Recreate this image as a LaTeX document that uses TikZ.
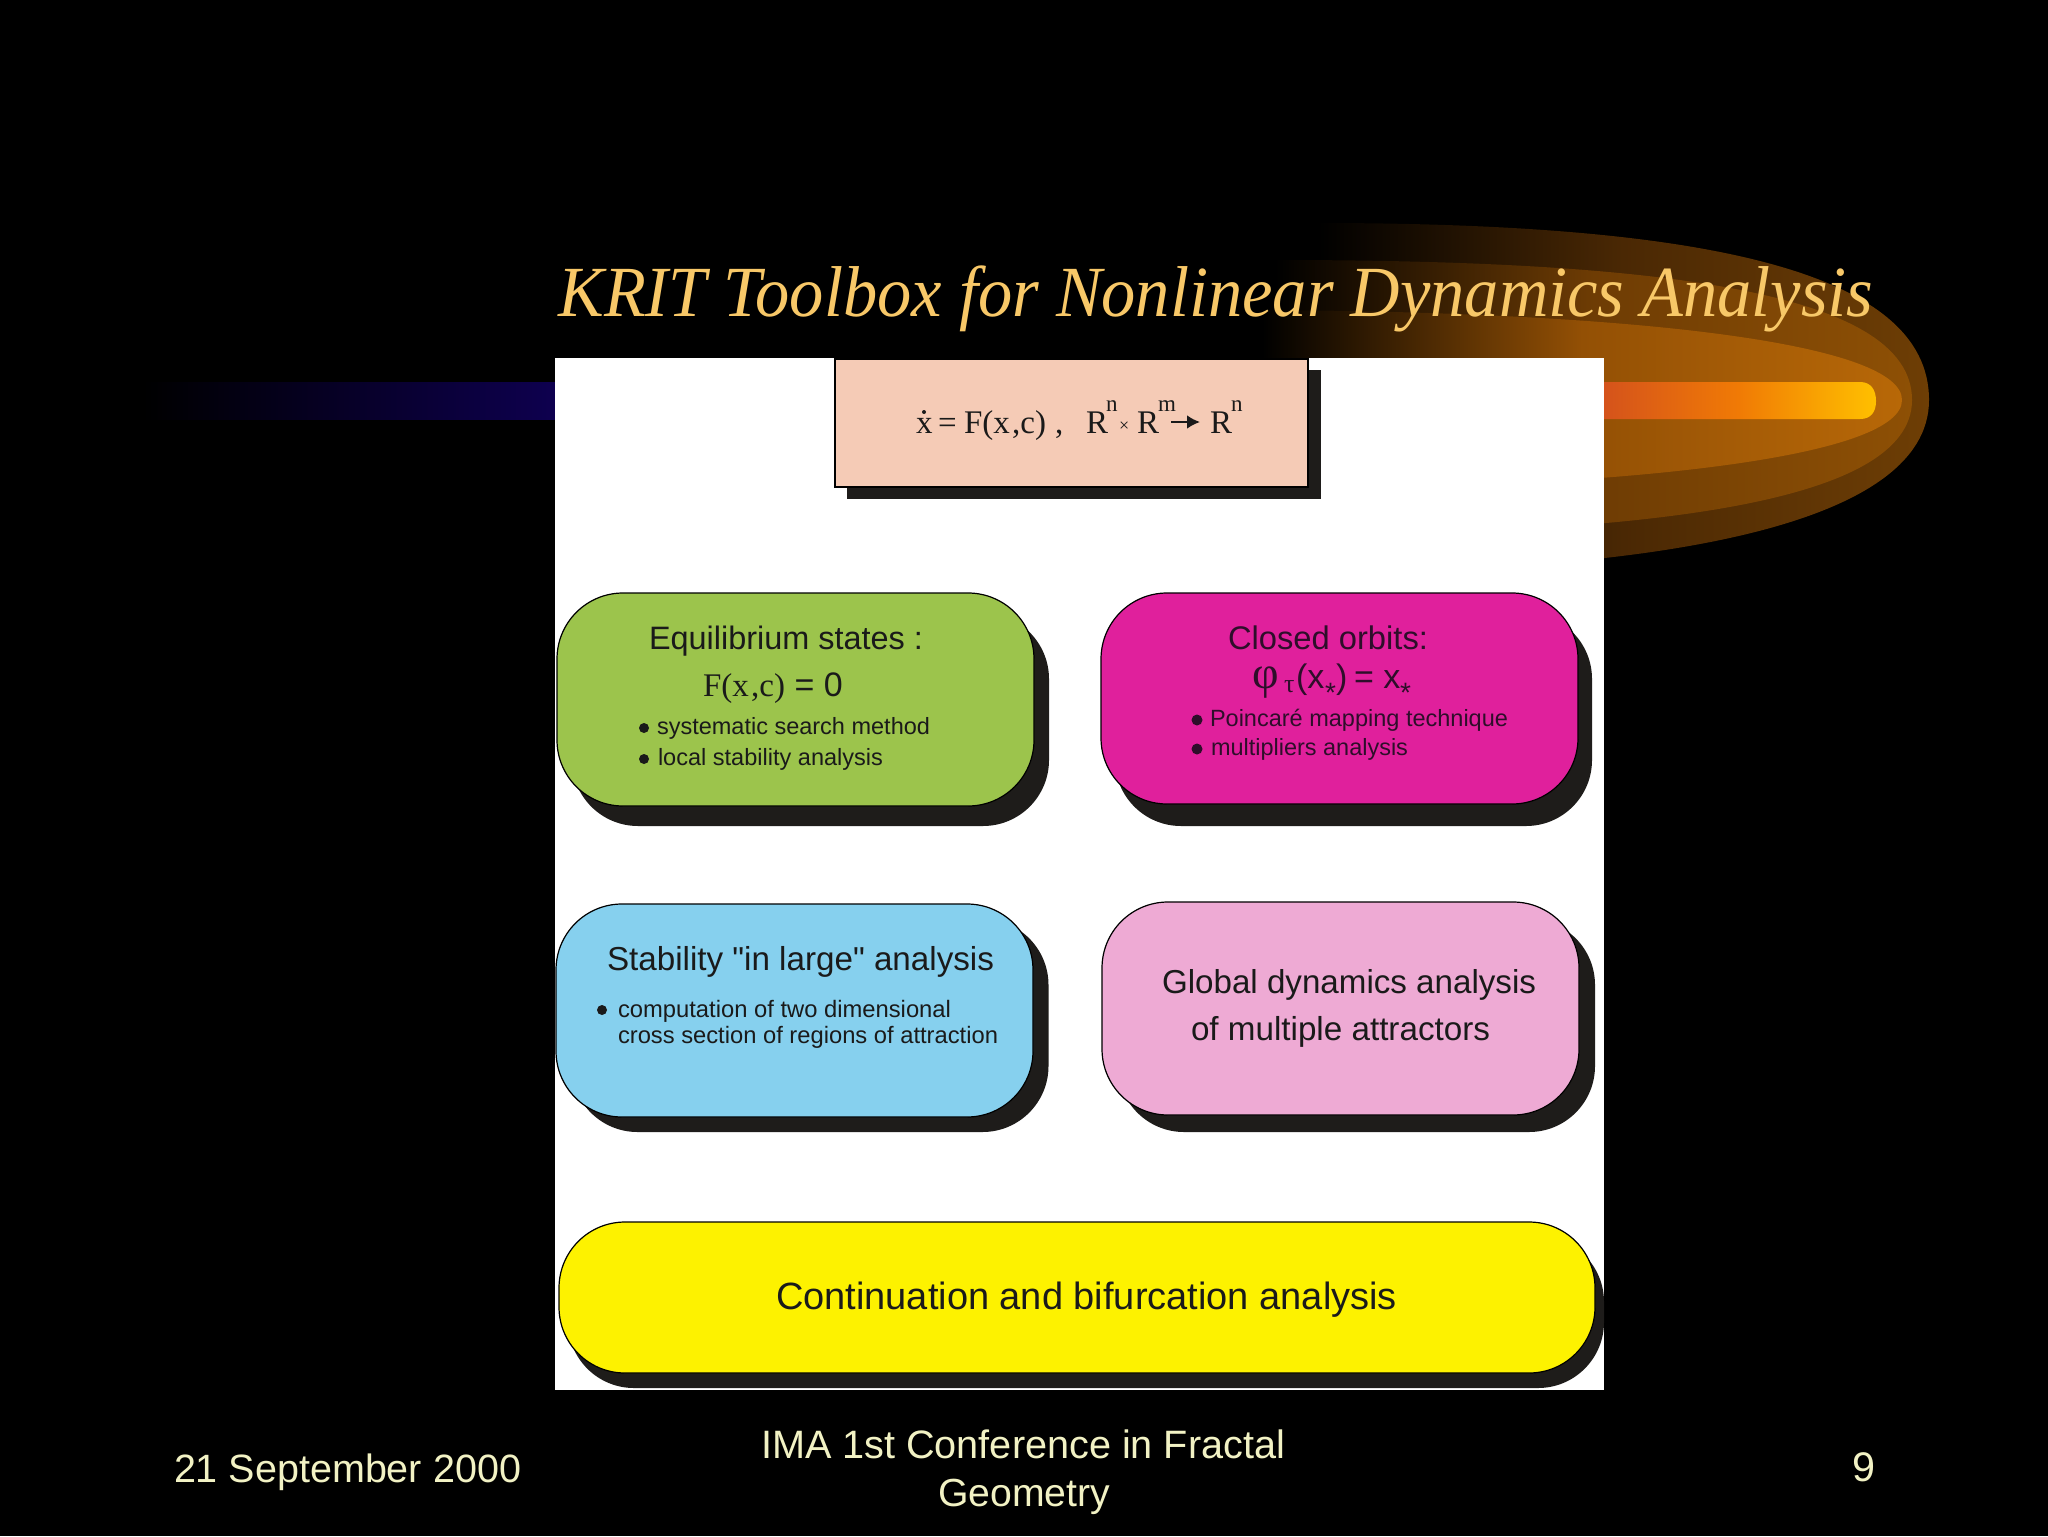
\documentclass[tikz,border=0pt]{standalone}
\usepackage{fontspec}
\usepackage{graphicx}
\setmainfont{Liberation Sans}
\newfontfamily\serf{Liberation Serif}
\newfontfamily\plainsans{Liberation Sans}
\usetikzlibrary{arrows.meta}
\newlength\twl
\newcommand\tw[2]{\setlength\twl{#1pt}\setlength\twl{0.5\twl}\resizebox{\twl}{!}{#2}}
\newcommand\twh[2]{\setlength\twl{#1pt}\setlength\twl{0.5\twl}\resizebox{\twl}{\height}{#2}}
\definecolor{titlecol}{HTML}{F8C868}
\definecolor{footcol}{HTML}{F2F2C4}
\definecolor{shadowcol}{HTML}{1E1C1A}
\definecolor{inkcol}{HTML}{1A1A1A}
\definecolor{magink}{HTML}{2E0E2A}
\definecolor{peach}{HTML}{F5CBB6}
\definecolor{greenbox}{HTML}{9CC44C}
\definecolor{magbox}{HTML}{E0209C}
\definecolor{bluebox}{HTML}{86D0EE}
\definecolor{pinkbox}{HTML}{EEAAD4}
\definecolor{yellowbox}{HTML}{FDF200}
\definecolor{glowa}{HTML}{6E3E05}
\definecolor{glowam}{HTML}{4A2804}
\definecolor{glowb}{HTML}{8E5005}
\definecolor{glowbm}{HTML}{6E3C04}
\definecolor{glowc}{HTML}{B86807}
\definecolor{glowcm}{HTML}{935005}
\definecolor{barblue}{HTML}{0E0050}
\definecolor{barred}{HTML}{D4521C}
\definecolor{barorange}{HTML}{F07A05}
\definecolor{baryellow}{HTML}{FFC000}
\tikzset{
  lbl/.style={anchor=base west,inner sep=0pt,outer sep=0pt,text=inkcol},
  mlbl/.style={anchor=base west,inner sep=0pt,outer sep=0pt,text=magink},
  foot/.style={anchor=base west,inner sep=0pt,outer sep=0pt,text=footcol},
  rbox/.style={rectangle,rounded corners=33pt,draw=black,line width=0.6pt,inner sep=0pt},
  shbox/.style={rectangle,rounded corners=33pt,fill=shadowcol,inner sep=0pt},
  sqbox/.style={rectangle,draw=black,line width=0.6pt,inner sep=0pt},
  sqshadow/.style={rectangle,fill=shadowcol,inner sep=0pt},
  dotmark/.style={circle,fill=inkcol,inner sep=0pt,minimum size=5pt},
  mdot/.style={circle,fill=magink,inner sep=0pt,minimum size=5.5pt},
}
\begin{document}
\begin{tikzpicture}[x=0.5pt,y=-0.5pt]
\fill[black] (0,0) rectangle (2048,1536);
\useasboundingbox (0,0) rectangle (2048,1536);
% glow layers
\shade[left color=black,right color=glowa,middle color=glowam] (1317,223) .. controls (1700,223) and (1929,270) .. (1929,400) .. controls (1929,525) and (1660,572) .. (1317,572) -- cycle;
\shade[left color=black,right color=glowb,middle color=glowbm] (1275,260) .. controls (1650,260) and (1912,290) .. (1912,400) .. controls (1912,505) and (1640,535) .. (1275,535) -- cycle;
\shade[left color=black,right color=glowc,middle color=glowcm] (1262,310) .. controls (1650,312) and (1902,345) .. (1902,400) .. controls (1902,455) and (1650,488) .. (1262,490) -- cycle;
% bar
\shade[left color=black,right color=barblue] (143,382) rectangle (560,419);
\shade[left color=barred,right color=baryellow,middle color=barorange] (1600,382) -- (1860,382) .. controls (1871,382) and (1876,390) .. (1876,401) .. controls (1876,412) and (1871,419) .. (1860,419) -- (1600,419) -- cycle;
% title
\node[anchor=base west,inner sep=0pt,text=titlecol,font=\serf\itshape\fontsize{36}{40}\selectfont] (title) at (558,316) {\twh{1315}{KRIT Toolbox for Nonlinear Dynamics Analysis}};
% white panel
\fill[white] (555,358) rectangle (1604,1390);
% top formula box
\node[sqshadow,minimum width=237pt,minimum height=64.5pt] (fs) at (1084,434.5) {};
\node[sqbox,fill=peach,minimum width=236.5pt,minimum height=64pt] (fb) at (1071.5,423) {};
% round boxes
\node[shbox,minimum width=238.5pt,minimum height=106.5pt] (eqs) at (810.5,719.5) {};
\node[rbox,fill=greenbox,minimum width=238.5pt,minimum height=106.5pt] (eq) at (795.5,699.5) {};
\node[shbox,minimum width=238.5pt,minimum height=106.5pt] (cos) at (1353.5,719.5) {};
\node[rbox,fill=magbox,minimum width=238.5pt,minimum height=105.5pt] (co) at (1339.5,698.5) {};
\node[shbox,minimum width=238.5pt,minimum height=106.5pt] (sts) at (810,1025.5) {};
\node[rbox,fill=bluebox,minimum width=238.5pt,minimum height=106.5pt] (st) at (794.5,1010.5) {};
\node[shbox,minimum width=238.5pt,minimum height=106.5pt] (gls) at (1356.5,1025.5) {};
\node[rbox,fill=pinkbox,minimum width=238.5pt,minimum height=106.5pt] (gl) at (1340.5,1008.5) {};
\node[shbox,minimum width=518pt,minimum height=76pt] (cns) at (1086,1312) {};
\node[rbox,fill=yellowbox,minimum width=518pt,minimum height=75.5pt] (cn) at (1077,1297.5) {};
% formula text
\begin{scope}[every node/.style={lbl,font=\serf\fontsize{16.5}{18}\selectfont}]
\node (fx) at (916,433) {x};
\node (fe) at (938,433) {=};
\node (ff) at (964,433) {F(x\kern1.2pt,c)};
\node (fc) at (1055,433) {,};
\node (r1) at (1086,433) {R};
\node (r2) at (1137,433) {R};
\node (r3) at (1210,433) {R};
\node[font=\serf\fontsize{11.5}{12}\selectfont] (n1) at (1106,411) {n};
\node[font=\serf\fontsize{9}{9}\selectfont] (tm) at (1119,431) {×};
\node[font=\serf\fontsize{11.5}{12}\selectfont] (m1) at (1158,411) {m};
\node[font=\serf\fontsize{11.5}{12}\selectfont] (n2) at (1231,411) {n};
\end{scope}
\fill[inkcol] (924,412) circle (1pt);
\coordinate (arra) at (1171,422);
\coordinate (arrb) at (1200,422);
\draw[inkcol,line width=1.3pt,-{Latex[length=6.5pt,width=7pt]}] (arra) -- (arrb);
% green
\node[lbl] (eq1) at (649,649) {\tw{274}{Equilibrium states :}};
\node[lbl,font=\fontsize{17}{18}\selectfont] (eq2) at (703,696) {{\serf\fontsize{16.5}{18}\selectfont F(x\kern1.2pt,c)} = 0};
\node[dotmark] (d1) at (644,728) {};
\node[lbl] (eq3) at (657,734) {\tw{273}{systematic search method}};
\node[dotmark] (d2) at (644,759) {};
\node[lbl] (eq4) at (658,765) {\tw{225}{local stability analysis}};
% magenta
\node[mlbl] (co1) at (1228,649) {\tw{200}{Closed orbits:}};
\node[mlbl,font=\serf\fontsize{23}{24}\selectfont] (co2a) at (1252,688) {φ};
\node[mlbl,font=\serf\fontsize{13}{14}\selectfont] (co2b) at (1284,692) {τ};
\node[mlbl,font=\fontsize{17}{20}\selectfont] (co2c) at (1296,688) {(x};
\node[mlbl,font=\fontsize{14}{16}\selectfont] (co2d) at (1325,702) {*};
\node[mlbl,font=\fontsize{17}{20}\selectfont] (co2e) at (1336,688) {)};
\node[mlbl,font=\fontsize{17}{20}\selectfont] (co2f) at (1354,688) {= x};
\node[mlbl,font=\fontsize{14}{16}\selectfont] (co2g) at (1400,702) {*};
\node[mdot] (d3) at (1197,720) {};
\node[mlbl] (co3) at (1210,726) {\tw{298}{Poincaré mapping technique}};
\node[mdot] (d4) at (1197,749) {};
\node[mlbl] (co4) at (1211,755) {\tw{197}{multipliers analysis}};
% blue
\node[lbl] (st1) at (607,970) {\tw{387}{\plainsans Stability "in large" analysis}};
\node[dotmark] (d5) at (602,1010) {};
\node[lbl] (st2) at (618,1017) {\tw{333}{computation of two dimensional}};
\node[lbl] (st3) at (618,1043) {\tw{380}{cross section of regions of attraction}};
% pink
\node[lbl] (gl1) at (1162,993) {\tw{374}{Global dynamics analysis}};
\node[lbl] (gl2) at (1191,1040) {\tw{299}{of multiple attractors}};
% yellow
\node[lbl] (cn1) at (776,1309) {\tw{621}{Continuation and bifurcation analysis}};
% footer
\node[foot] (f1) at (174,1482) {\tw{347}{21 September 2000}};
\node[foot] (f2) at (761,1458) {\tw{524}{IMA 1st Conference in Fractal}};
\node[foot] (f3) at (938,1506) {\tw{172}{Geometry}};
\node[foot] (f4) at (1852,1481) {\tw{23}{9}};
\end{tikzpicture}
\end{document}
